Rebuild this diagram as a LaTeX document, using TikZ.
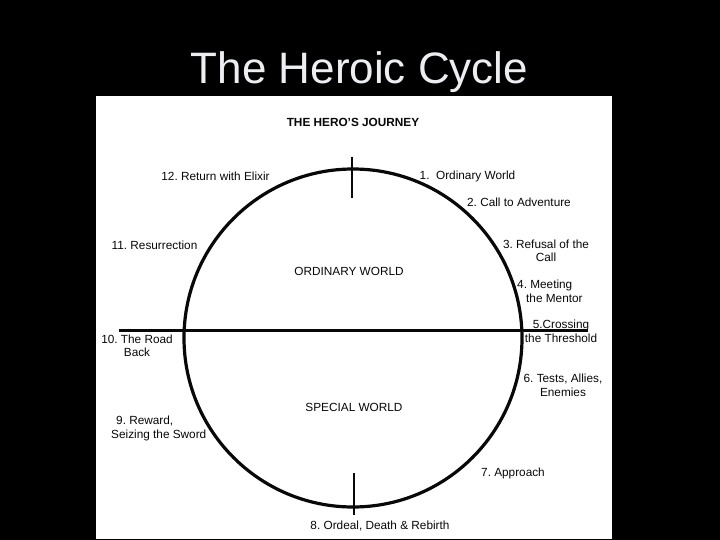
\documentclass[tikz,border=0pt]{standalone}
\usepackage{fontspec}
\setmainfont{Liberation Sans}
\usepackage{xcolor}
\usepackage{tikz}
\usetikzlibrary{positioning}
\frenchspacing
\definecolor{slideblack}{RGB}{0,0,0}
\definecolor{titlewhite}{RGB}{236,238,242}
\definecolor{inkblack}{RGB}{8,8,8}
\tikzset{
  stage/.style={font=\fontsize{11.8}{13.5}\selectfont,text=inkblack,
    align=center,inner sep=0pt},
  stageleft/.style={stage,align=left,anchor=west},
  headline/.style={stage,font=\fontsize{11.8}{13.5}\selectfont\bfseries},
  slidetitle/.style={font=\fontsize{44}{50}\selectfont,text=titlewhite,
    anchor=base,inner sep=0pt},
  ring/.style={draw=inkblack,line width=3.2pt},
  divider/.style={draw=inkblack,line width=3pt},
  crossmark/.style={draw=inkblack,line width=2.8pt}
}

\begin{document}
\begin{tikzpicture}[x=1pt,y=-1pt]
  \useasboundingbox (0,0) rectangle (720,540);
  \fill[slideblack] (0,0) rectangle (720,540);
  \fill[white] (96,96) rectangle (612,539);
  \node[slidetitle] (title) at (359.5,84) {The Heroic Cycle};
  \node[headline] (journey) at (353,122) {THE HERO'S JOURNEY};
  % the cycle and its two worlds
  \coordinate (hub) at (353,338);
  \draw[ring] (hub) circle[radius=169];
  \coordinate (roadL) at (119,330);
  \coordinate (roadR) at (588,330);
  \draw[divider] (roadL) -- (roadR);
  \coordinate (topA) at (352,157);
  \coordinate (topB) at (352,198);
  \draw[crossmark] (topA) -- (topB);
  \coordinate (botA) at (354,473);
  \coordinate (botB) at (354,515);
  \draw[crossmark] (botA) -- (botB);
  \node[stage] (ordinary) at (349,271) {ORDINARY WORLD};
  \node[stage] (special) at (354,407) {SPECIAL WORLD};
  % stages
  \node[stage] (s1) at (467.5,176) {1.\ \ Ordinary World};
  \node[stage] (s2) at (519,202) {2. Call to Adventure};
  \node[stage] (s3) at (546,251) {3. Refusal of the\\Call};
  \node[stageleft] (s4) at (517,291.5) {4. Meeting\\\hspace*{9pt}the Mentor};
  \node[stage] (s5) at (561,331.5) {5.Crossing\\the Threshold};
  \node[stage] (s6) at (563,385.5) {6. Tests, Allies,\\Enemies};
  \node[stage] (s7) at (513,473) {7. Approach};
  \node[stage] (s8) at (380,526) {8. Ordeal, Death \& Rebirth};
  \node[stageleft] (s9) at (111,428.5) {\hspace*{5pt}9. Reward,\\Seizing the Sword};
  \node[stage] (s10) at (137,346) {10. The Road\\Back};
  \node[stage] (s11) at (154.5,245) {11. Resurrection};
  \node[stage] (s12) at (215.5,176) {12. Return with Elixir};
\end{tikzpicture}
\end{document}
